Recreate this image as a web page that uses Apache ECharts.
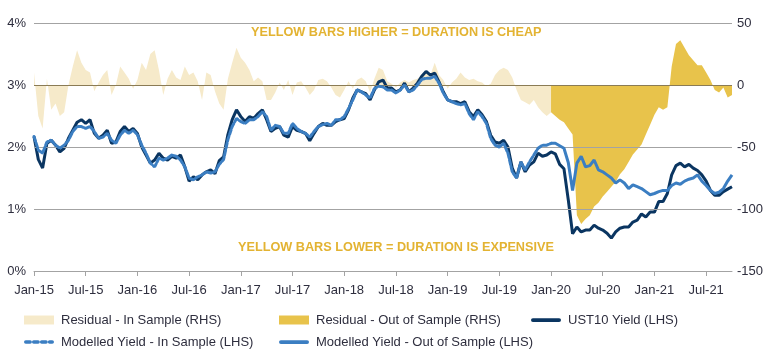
<!DOCTYPE html>
<html>
<head>
<meta charset="utf-8">
<script src="https://cdn.jsdelivr.net/npm/echarts@6/dist/echarts.min.js"></script>
<style>
html,body{margin:0;padding:0;background:#fff;}
#chart{width:770px;height:359px;}
</style>
</head>
<body>
<div id="chart"></div>
<script>
// Semi-monthly observations, 1 Jan 2015 .. 1 Oct 2021 (163 points)
const tickLabels = ['Jan-15','Jul-15','Jan-16','Jul-16','Jan-17','Jul-17','Jan-18','Jul-18','Jan-19','Jul-19','Jan-20','Jul-20','Jan-21','Jul-21'];
const categories = [];
for (let i = 0; i < 163; i++) {
  const y = 2015 + Math.floor(i / 24);
  const m = Math.floor((i % 24) / 2) + 1;
  const d = (i % 2) ? 16 : 1;
  categories.push(y + '-' + String(m).padStart(2, '0') + '-' + String(d).padStart(2, '0'));
}
const splitIndex = 120; // Jan-20: start of out-of-sample period

// UST10 yield (%), LHS
const ust10 = [
2.17,1.80,1.66,2.06,2.11,2.03,1.92,1.98,2.14,2.27,2.40,2.44,2.38,2.44,2.22,2.14,2.19,2.27,2.06,2.08,
2.25,2.33,2.25,2.30,2.22,2.00,1.87,1.74,1.79,1.90,1.82,1.79,1.85,1.82,1.87,1.68,1.45,1.52,1.47,1.55,
1.60,1.63,1.57,1.78,1.84,2.20,2.44,2.60,2.49,2.41,2.49,2.46,2.54,2.60,2.44,2.25,2.30,2.33,2.19,2.16,
2.33,2.27,2.25,2.22,2.10,2.22,2.33,2.38,2.35,2.35,2.41,2.44,2.46,2.60,2.79,2.92,2.89,2.86,2.76,2.92,
3.05,3.08,2.95,2.95,2.89,2.92,3.03,2.89,2.95,3.03,3.14,3.22,3.16,3.19,3.05,2.89,2.76,2.73,2.73,2.70,
2.73,2.57,2.49,2.60,2.52,2.41,2.19,2.08,2.06,2.11,2.00,1.66,1.50,1.76,1.60,1.71,1.76,1.90,1.85,1.87,
1.92,1.89,1.72,1.65,1.15,0.60,0.71,0.63,0.66,0.66,0.74,0.69,0.66,0.61,0.53,0.63,0.69,0.71,0.71,0.79,
0.82,0.92,0.87,0.95,0.95,1.12,1.12,1.25,1.55,1.70,1.74,1.68,1.72,1.66,1.62,1.55,1.45,1.30,1.22,1.22,
1.28,1.32,1.36
];

// Modelled yield (%), LHS
const modelled = [
2.17,1.95,1.90,2.08,2.11,2.03,1.98,2.03,2.11,2.25,2.33,2.33,2.30,2.33,2.25,2.14,2.16,2.22,2.11,2.06,
2.19,2.27,2.22,2.27,2.20,2.03,1.90,1.74,1.68,1.82,1.79,1.82,1.87,1.85,1.79,1.68,1.50,1.47,1.52,1.55,
1.60,1.58,1.60,1.72,1.80,2.12,2.33,2.46,2.41,2.38,2.44,2.44,2.49,2.57,2.49,2.27,2.35,2.33,2.22,2.22,
2.38,2.30,2.25,2.22,2.16,2.25,2.33,2.36,2.38,2.35,2.44,2.44,2.49,2.62,2.76,2.92,2.89,2.84,2.79,2.94,
2.98,2.97,2.92,2.92,2.87,2.92,3.00,2.89,2.92,3.00,3.09,3.11,3.11,3.14,3.03,2.87,2.76,2.73,2.70,2.68,
2.70,2.54,2.44,2.57,2.49,2.38,2.14,2.03,2.00,2.06,1.90,1.60,1.50,1.76,1.63,1.76,1.87,1.98,2.03,2.03,
2.06,2.06,2.02,1.98,1.75,1.30,1.74,1.85,1.68,1.70,1.79,1.63,1.60,1.55,1.50,1.42,1.47,1.42,1.33,1.39,
1.36,1.33,1.28,1.23,1.25,1.28,1.30,1.30,1.38,1.42,1.40,1.45,1.48,1.50,1.55,1.45,1.38,1.30,1.25,1.27,
1.33,1.45,1.55
];

// Residual (bp), RHS
const residual = [
10,-25,-35,5,-20,-15,-25,-22,0,15,28,18,12,10,-5,2,8,12,-8,0,
15,10,5,-3,4,18,12,25,28,12,-8,5,12,6,4,15,8,10,3,-12,
10,8,-5,-15,-20,5,18,30,22,18,12,3,6,3,-12,-12,-6,2,-4,4,
-8,2,3,-2,-8,-4,4,5,3,-2,-8,-10,-4,3,-3,4,6,3,-6,5,
14,12,3,1,-2,2,4,2,4,5,8,10,8,18,8,4,-3,2,5,10,
6,4,5,3,2,-1,1,8,12,14,12,6,-4,-12,-14,-16,-12,-18,-22,-25,
-22,-25,-28,-30,-35,-40,-105,-112,-108,-105,-98,-95,-90,-86,-82,-78,-72,-68,-62,-56,
-52,-48,-40,-32,-24,-18,-20,-18,15,33,36,30,24,20,16,16,10,4,-4,-6,
-2,-10,-8
];

const resIn = residual.map((v, i) => i <= splitIndex ? v : null);
const resOut = residual.map((v, i) => i >= splitIndex ? v : null);
const modIn = modelled.map((v, i) => i <= splitIndex ? v : null);
const modOut = modelled.map((v, i) => i >= splitIndex ? v : null);

const FONT = '"Liberation Sans", Arial, sans-serif';
const TXT = '#2e2e3e';
const BEIGE = '#F6EACA';
const GOLD = '#E8C34B';
const NAVY = '#0A3561';
const BLUE = '#3B7EC2';
const GRIDC = '#A3A3A3';

const ICON_SOLID = 'path://M2,0 L30,0 A2,2 0 0 1 30,4 L2,4 A2,2 0 0 1 2,0 Z';
const ICON_DASH = 'path://M1,0h5a2,2 0 0 1 0,4h-5a2,2 0 0 1 0,-4z M10,0h5a2,2 0 0 1 0,4h-5a2,2 0 0 1 0,-4z M19,0h5a2,2 0 0 1 0,4h-5a2,2 0 0 1 0,-4z M28,0h3a2,2 0 0 1 0,4h-3a2,2 0 0 1 0,-4z';

const legendBase = {
  top: 313, orient: 'vertical', itemWidth: 30, itemHeight: 9, itemGap: 8, padding: 0,
  symbolKeepAspect: true,
  textStyle: {color: TXT, fontSize: 13, fontFamily: FONT, lineHeight: 14, padding: [0, 0, 0, 2]}
};

const chart = echarts.init(document.getElementById('chart'), null, {renderer: 'canvas'});
const option = {
  animation: false,
  backgroundColor: '#fff',
  textStyle: {fontFamily: FONT},
  grid: {left: 34, right: 38, top: 23, bottom: 88},
  xAxis: {
    type: 'category',
    data: categories,
    boundaryGap: false,
    axisLine: {show: true, lineStyle: {color: GRIDC, width: 1}},
    axisTick: {show: true, interval: 11, length: 5, lineStyle: {color: GRIDC}},
    axisLabel: {
      interval: 11, margin: 13, color: TXT, fontSize: 13, fontFamily: FONT,
      formatter: (v, idx) => (idx % 12 === 0 ? tickLabels[idx / 12] : '')
    },
    splitLine: {show: false}
  },
  yAxis: [
    {
      type: 'value', min: 0, max: 4, interval: 1,
      axisLine: {show: false}, axisTick: {show: false}, splitLine: {show: false},
      axisLabel: {formatter: '{value}%', color: TXT, fontSize: 13, fontFamily: FONT, margin: 8}
    },
    {
      type: 'value', min: -150, max: 50, interval: 50, position: 'right',
      axisLine: {show: false}, axisTick: {show: false}, splitLine: {show: false},
      axisLabel: {color: TXT, fontSize: 13, fontFamily: FONT, margin: 5}
    }
  ],
  legend: [
    Object.assign({}, legendBase, {
      left: 24,
      data: [
        {name: 'Residual - In Sample (RHS)', icon: 'rect'},
        {name: 'Modelled Yield - In Sample (LHS)', icon: ICON_DASH}
      ]
    }),
    Object.assign({}, legendBase, {
      left: 279,
      data: [
        {name: 'Residual - Out of Sample (RHS)', icon: 'rect'},
        {name: 'Modelled Yield - Out of Sample (LHS)', icon: ICON_SOLID}
      ]
    }),
    Object.assign({}, legendBase, {
      left: 531,
      data: [{name: 'UST10 Yield (LHS)', icon: ICON_SOLID}]
    })
  ],
  graphic: [
    {
      type: 'text', left: 251, top: 26, z: 20, silent: true,
      style: {text: 'YELLOW BARS HIGHER = DURATION IS CHEAP', fill: '#E3B332', font: 'bold 12.7px ' + FONT}
    },
    {
      type: 'text', left: 238, top: 241, z: 20, silent: true,
      style: {text: 'YELLOW BARS LOWER = DURATION IS EXPENSIVE', fill: '#E3B332', font: 'bold 12.7px ' + FONT}
    }
  ],
  series: [
    {
      name: 'Residual - In Sample (RHS)', type: 'line', yAxisIndex: 1, data: resIn,
      symbol: 'none', z: 1, lineStyle: {width: 0}, itemStyle: {color: BEIGE},
      areaStyle: {color: BEIGE, opacity: 1}
    },
    {
      name: 'Residual - Out of Sample (RHS)', type: 'line', yAxisIndex: 1, data: resOut,
      symbol: 'none', z: 1, lineStyle: {width: 0}, itemStyle: {color: GOLD},
      areaStyle: {color: GOLD, opacity: 1}
    },
    {
      name: 'gridlines', type: 'line', yAxisIndex: 0, data: categories.map(() => null),
      z: 2, silent: true, symbol: 'none',
      markLine: {
        silent: true, symbol: ['none', 'none'], label: {show: false}, animation: false,
        data: [
          {yAxis: 4, lineStyle: {color: GRIDC, width: 1, type: 'solid'}},
          {yAxis: 3, lineStyle: {color: '#8A7B55', width: 1, type: 'solid'}},
          {yAxis: 2, lineStyle: {color: GRIDC, width: 1, type: 'solid'}},
          {yAxis: 1, lineStyle: {color: GRIDC, width: 1, type: 'solid'}}
        ]
      }
    },
    {
      name: 'UST10 Yield (LHS)', type: 'line', yAxisIndex: 0, data: ust10,
      symbol: 'none', z: 4, itemStyle: {color: NAVY},
      lineStyle: {color: NAVY, width: 3}
    },
    {
      name: 'Modelled Yield - In Sample (LHS)', type: 'line', yAxisIndex: 0, data: modIn,
      symbol: 'none', z: 5, itemStyle: {color: BLUE},
      lineStyle: {color: BLUE, width: 3, type: [5, 2], cap: 'round'}
    },
    {
      name: 'Modelled Yield - Out of Sample (LHS)', type: 'line', yAxisIndex: 0, data: modOut,
      symbol: 'none', z: 5, itemStyle: {color: BLUE},
      lineStyle: {color: BLUE, width: 3}
    }
  ]
};
chart.setOption(option);
</script>
</body>
</html>
